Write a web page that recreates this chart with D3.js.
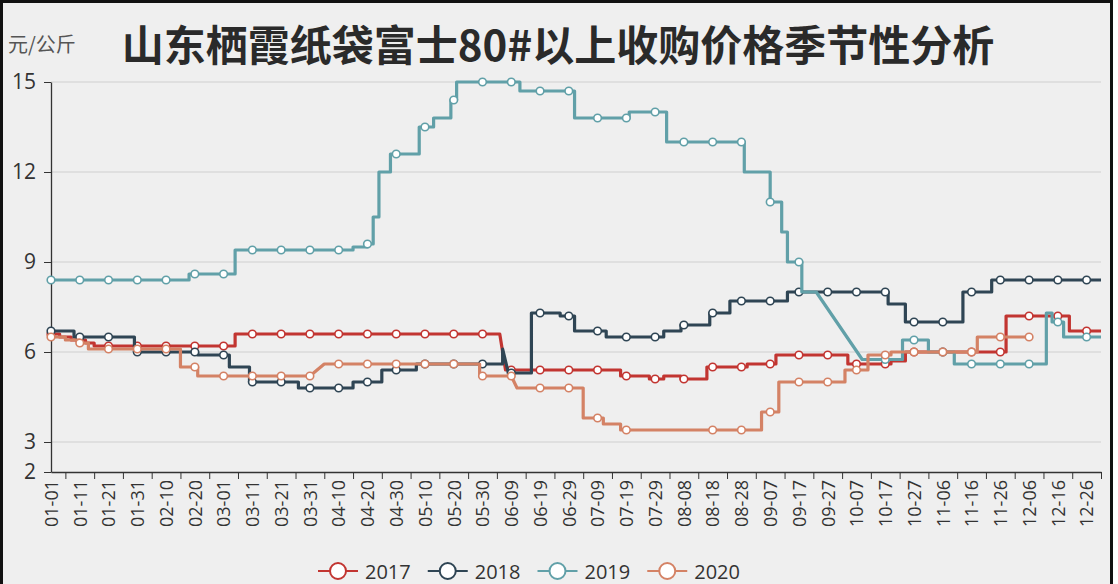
<!DOCTYPE html>
<html>
<head>
<meta charset="utf-8">
<script src="https://cdn.jsdelivr.net/npm/d3@7"></script>
<style>
html, body { margin: 0; padding: 0; background: #fff; }
svg { display: block; }
</style>
</head>
<body>
<svg id="chart" width="1118" height="584"></svg>
<script>
// ---- data ----
const titleText = "山东栖霞纸袋富士80#以上收购价格季节性分析";
const unitText = "元/公斤";
const years = ["2017", "2018", "2019", "2020"];
const colors = ["#c23531", "#2f4554", "#61a0a8", "#d48265"];
const yTicks = [2, 3, 6, 9, 12, 15];

// daily categories "MM-DD" over a leap year
const monthDays = [31, 29, 31, 30, 31, 30, 31, 31, 30, 31, 30, 31];
const days = [];
monthDays.forEach((n, m) => {
  for (let d = 1; d <= n; d++) {
    days.push(String(m + 1).padStart(2, "0") + "-" + String(d).padStart(2, "0"));
  }
});

// price runs: [first day, price]; the price holds until the next entry, null = no quote
const runs2017 = [
  ["01-01", 6.6], ["01-04", 6.5], ["01-08", 6.4], ["01-13", 6.3], ["01-16", 6.2],
  ["03-05", 6.6], ["06-06", null], ["06-07", 5.4], ["07-17", 5.2], ["07-27", 5.1],
  ["08-01", 5.2], ["08-07", 5.1], ["08-16", 5.5], ["08-30", 5.6], ["09-09", 5.9],
  ["10-04", 5.6], ["10-19", 5.7], ["10-24", 6.0], ["11-28", 7.2], ["12-20", 6.7]
];
const runs2018 = [
  ["01-01", 6.7], ["01-09", 6.5], ["01-30", 6.0], ["02-21", 5.9], ["03-03", 5.5],
  ["03-10", 5.0], ["03-27", 4.8], ["04-15", 5.0], ["04-25", 5.4], ["05-07", 5.6],
  ["06-06", 6.1], ["06-07", null], ["06-08", 5.3], ["06-16", 7.3], ["06-26", 7.2],
  ["07-01", 6.7], ["07-12", 6.5], ["08-01", 6.7], ["08-07", 6.9], ["08-17", 7.3],
  ["08-24", 7.7], ["09-13", 8.0], ["10-18", 7.6], ["10-24", 7.0], ["11-13", 8.0],
  ["11-23", 8.4]
];
const runs2019 = [
  ["01-01", 8.4], ["02-18", 8.6], ["03-05", 9.4], ["04-15", 9.5], ["04-20", 9.6],
  ["04-22", 10.5], ["04-24", 12.0], ["04-28", 12.6], ["05-08", 13.5], ["05-13", 13.8],
  ["05-19", 14.4], ["05-21", 15.0], ["06-12", 14.7], ["07-01", 13.8], ["07-20", 14.0],
  ["08-02", 13.0], ["08-29", 12.0], ["09-07", 11.0], ["09-11", 10.0], ["09-13", 9.0],
  ["09-18", 8.0], ["09-24", null], ["10-09", 5.75], ["10-23", 6.4], ["11-01", 6.0],
  ["11-10", 5.6], ["12-12", 7.3], ["12-14", 7.0], ["12-18", 6.5]
];
const runs2020 = [
  ["01-01", 6.5], ["01-06", 6.4], ["01-11", 6.3], ["01-14", 6.1], ["02-15", 5.5],
  ["02-21", 5.2], ["04-01", null], ["04-05", 5.6], ["05-29", 5.2], ["06-10", null],
  ["06-11", 4.8], ["07-04", 3.8], ["07-11", 3.6], ["07-17", 3.4], ["07-20", null],
  ["08-17", 3.4], ["09-04", 4.0], ["09-10", 5.0], ["10-03", 5.4], ["10-11", 5.9],
  ["10-19", 6.0], ["11-18", 6.5], ["12-08", null]
];
const allRuns = [runs2017, runs2018, runs2019, runs2020];

// expand runs into one value per day
function expand(runs) {
  const start = runs.map(r => days.indexOf(r[0]));
  return days.map((_, i) => {
    let v = null;
    for (let k = 0; k < runs.length; k++) if (start[k] <= i) v = runs[k][1];
    return v;
  });
}
const series = allRuns.map(expand);

// ---- layout ----
const svg = d3.select("#chart");
const W = 1118, H = 584;
const plot = { left: 51, right: 1101, top: 82, bottom: 472 };

svg.append("rect").attr("x", 0).attr("y", 0).attr("width", W).attr("height", H).attr("fill", "#fff");
svg.append("rect")
  .attr("x", 1.5).attr("y", 1.5).attr("width", 1110).attr("height", H + 10)
  .attr("fill", "#efefef").attr("stroke", "#111").attr("stroke-width", 3);

const x = d3.scalePoint().domain(days).range([plot.left, plot.right]).padding(0);
const y = d3.scaleLinear().domain([2, 15]).range([plot.bottom, plot.top]);

// grid
svg.append("g").selectAll("line")
  .data(yTicks.filter(t => t !== 2))
  .join("line")
  .attr("x1", plot.left).attr("x2", plot.right)
  .attr("y1", d => y(d)).attr("y2", d => y(d))
  .attr("stroke", "#cfcfcf").attr("stroke-width", 1);

// y axis
const yAxis = svg.append("g")
  .attr("transform", `translate(${plot.left},0)`)
  .call(d3.axisLeft(y).tickValues(yTicks).tickSize(7).tickSizeOuter(0).tickPadding(8));
yAxis.select(".domain").attr("stroke", "#333").attr("stroke-width", 1.3);
yAxis.selectAll(".tick line").attr("stroke", "#333");
yAxis.selectAll("text")
  .attr("font-family", "'Open Sans', 'Noto Sans', sans-serif")
  .attr("font-size", 21).attr("fill", "#333");

// x axis: ticks between labels, labels every 10 days
const labelDays = days.filter((_, i) => i % 10 === 0 && i <= 360);
const tickDays = days.filter((_, i) => i % 10 === 5);
const xTicks = svg.append("g")
  .attr("transform", `translate(0,${plot.bottom})`)
  .call(d3.axisBottom(x).tickValues(tickDays).tickSize(7).tickSizeOuter(0).tickFormat(""));
xTicks.select(".domain").attr("stroke", "#333").attr("stroke-width", 1.3);
xTicks.selectAll(".tick line").attr("stroke", "#333");

const xLabels = svg.append("g")
  .attr("transform", `translate(0,${plot.bottom})`)
  .call(d3.axisBottom(x).tickValues(labelDays).tickSize(0).tickPadding(0));
xLabels.select(".domain").remove();
xLabels.selectAll("text")
  .attr("font-family", "'Open Sans', 'Noto Sans', sans-serif")
  .attr("font-size", 18).attr("fill", "#333")
  .attr("text-anchor", "end")
  .attr("dy", "0.35em")
  .attr("transform", "translate(0,8) rotate(-90)");

// series lines: daily steps, straight joins across gaps
function buildPath(vals) {
  let d = "", prev = -1;
  vals.forEach((v, i) => {
    if (v == null) return;
    const px = x(days[i]), py = y(v);
    if (prev < 0) d += `M${px},${py}`;
    else if (i === prev + 1) d += `H${px}V${py}`;
    else d += `L${px},${py}`;
    prev = i;
  });
  return d;
}

series.forEach((vals, s) => {
  const g = svg.append("g");
  g.append("path")
    .attr("d", buildPath(vals))
    .attr("fill", "none")
    .attr("stroke", colors[s])
    .attr("stroke-width", 3.2)
    .attr("stroke-linejoin", "round");
  const pts = vals.map((v, i) => ({ i, v })).filter(p => p.v != null && p.i % 10 === 0);
  g.selectAll("circle").data(pts).join("circle")
    .attr("cx", p => x(days[p.i])).attr("cy", p => y(p.v))
    .attr("r", 3.8)
    .attr("fill", "#fff")
    .attr("stroke", colors[s])
    .attr("stroke-width", 1.6);
});

// title and unit
svg.append("text")
  .attr("x", 558).attr("y", 42)
  .attr("text-anchor", "middle").attr("dominant-baseline", "central")
  .attr("font-family", "'Noto Sans CJK SC', sans-serif")
  .attr("font-weight", "bold").attr("font-size", 42).attr("fill", "#2a2a2a")
  .text(titleText);
svg.append("text")
  .attr("x", 8).attr("y", 43)
  .attr("dominant-baseline", "central")
  .attr("font-family", "'Noto Sans CJK SC', sans-serif")
  .attr("font-size", 20).attr("fill", "#555")
  .text(unitText);

// legend
const legend = svg.append("g");
let lx = 318;
const ly = 571;
years.forEach((yr, s) => {
  const item = legend.append("g");
  item.append("line")
    .attr("x1", lx).attr("x2", lx + 40).attr("y1", ly).attr("y2", ly)
    .attr("stroke", colors[s]).attr("stroke-width", 2);
  item.append("circle")
    .attr("cx", lx + 20).attr("cy", ly).attr("r", 8)
    .attr("fill", "#fff").attr("stroke", colors[s]).attr("stroke-width", 2);
  const t = item.append("text")
    .attr("x", lx + 47).attr("y", ly)
    .attr("dominant-baseline", "central")
    .attr("font-family", "'Open Sans', 'Noto Sans', sans-serif")
    .attr("font-size", 20).attr("fill", "#333")
    .text(yr);
  lx += 47 + t.node().getComputedTextLength() + 17;
});
</script>
</body>
</html>
